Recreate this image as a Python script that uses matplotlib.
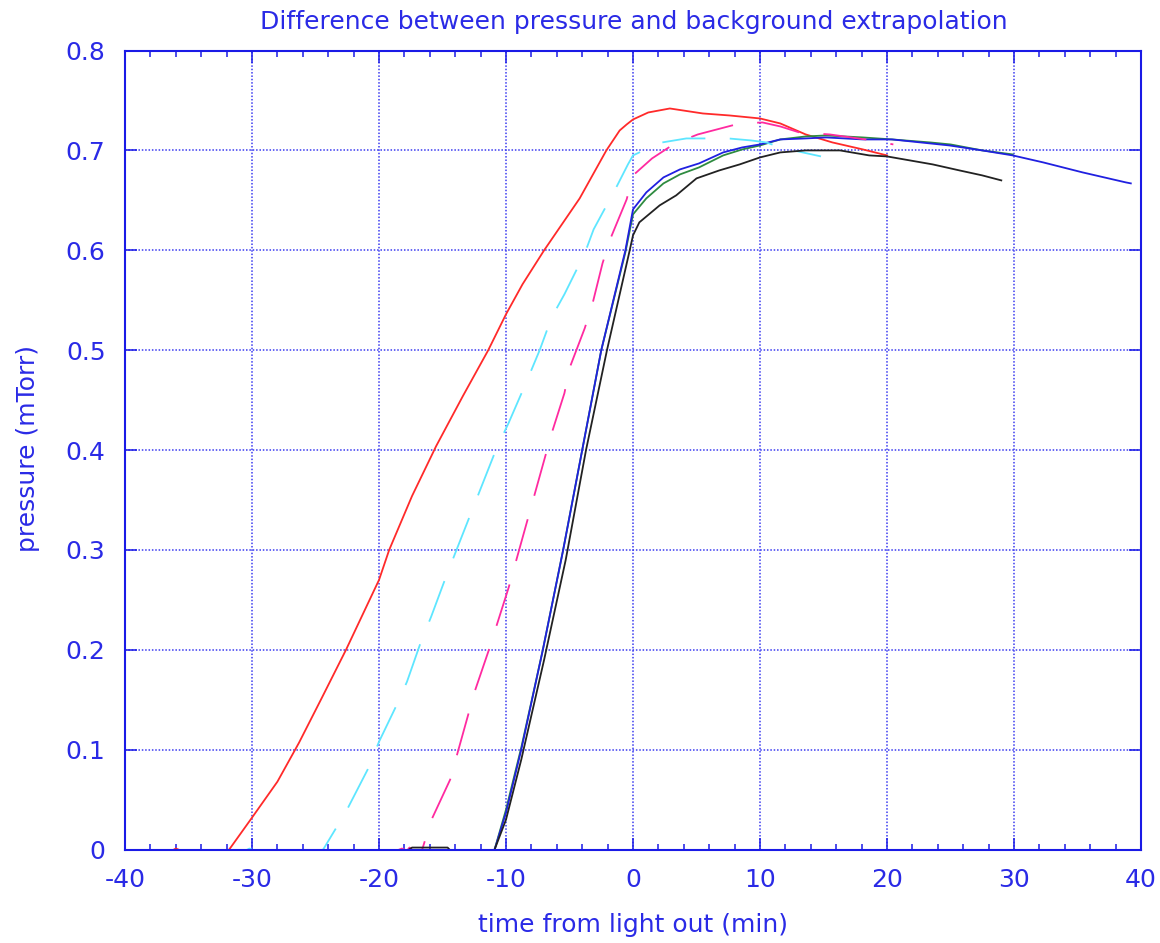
import matplotlib
matplotlib.use("Agg")
import matplotlib.pyplot as plt
from matplotlib.ticker import MultipleLocator, FormatStrFormatter, FuncFormatter

# Pressure minus background extrapolation, one run per curve (mTorr vs minutes)
red_t = [-37, -36.3, -36, -35.6, -34, -33, -32.3, -31.8, -30, -28, -26.3, -24.5,
         -22.6, -20, -19.2, -17.4, -15.5, -13.4, -11.4, -10, -8.7, -7.0, -4.2, -2.1,
         -1.05, -0.5, 0, 1.2, 2.9, 5.5, 7.6, 10, 11.6, 13.6, 15.7, 18.1, 20]
red_v = [-0.004, -0.001, 0.001, -0.001, -0.006, -0.005, -0.002, 0.0, 0.032, 0.068,
         0.107, 0.152, 0.2, 0.27, 0.3, 0.354, 0.404, 0.454, 0.5, 0.536, 0.566, 0.6,
         0.652, 0.7, 0.72, 0.726, 0.731, 0.738, 0.742, 0.737, 0.735, 0.732, 0.727,
         0.716, 0.708, 0.701, 0.695]

cyan_t = [-31, -30.2, -29.5, -27, -25.2, -24.4, -22.6, -20.9, -20, -18.6, -17.8,
          -16.7, -15.9, -14.7, -13.9, -10.8, -9.8, -8.4, -7.35, -6.4, -5.4, -3.8,
          -3.1, -1.4, -0.4, 0, 1, 2.3, 4.2, 7.5, 9.3, 10.5, 11.6, 13.0, 14.8]
cyan_v = [-0.004, 0.001, -0.003, -0.006, -0.003, 0.0, 0.038, 0.08, 0.108, 0.145,
          0.168, 0.208, 0.233, 0.274, 0.3, 0.4, 0.427, 0.468, 0.5, 0.533, 0.556,
          0.597, 0.621, 0.661, 0.686, 0.695, 0.701, 0.708, 0.712, 0.712, 0.71,
          0.708, 0.703, 0.699, 0.694]

pink_t = [-19, -18.2, -17.8, -17.6, -17.2, -16.6, -15.9, -14.4, -13.9, -13.0, -12.5,
          -11.4, -10.8, -9.8, -6.4, -5.4, -5.0, -3.8, -3.2, -2.4, -1.8, -0.5, 0,
          1.5, 3.3, 5.1, 8.4, 10.2, 11.6, 13.1, 15.5, 18.3, 20.5]
pink_v = [-0.003, 0.001, -0.001, 0.002, -0.002, 0.0, 0.029, 0.07, 0.093, 0.134,
          0.157, 0.198, 0.222, 0.262, 0.417, 0.457, 0.482, 0.522, 0.546, 0.587,
          0.611, 0.651, 0.675, 0.692, 0.707, 0.716, 0.727, 0.728, 0.724, 0.718,
          0.716, 0.711, 0.706]

blue_t = [-13, -11.5, -10.9, -10, -8.8, -7.1, -5.5, -4.0, -2.5, -0.6, 0, 1.05, 2.4,
          3.7, 5.2, 7.1, 8.6, 10, 11.6, 13.6, 15.2, 18.1, 20.4, 23.4, 24.9, 27.5,
          29.9, 32.3, 35.4, 38.8, 39.2]
blue_v = [-0.004, -0.003, 0.0, 0.037, 0.1, 0.2, 0.3, 0.4, 0.5, 0.6, 0.641, 0.658,
          0.673, 0.681, 0.687, 0.698, 0.703, 0.706, 0.711, 0.712, 0.713, 0.711,
          0.711, 0.707, 0.705, 0.70, 0.695, 0.688, 0.678, 0.668, 0.667]

green_t = [-13, -11.5, -10.9, -10, -8.8, -7.1, -5.5, -4.0, -2.5, -0.6, 0, 1.05, 2.4,
           3.7, 5.2, 7.1, 8.6, 10, 11.6, 13.6, 15.2, 18.1, 20.4, 23.4, 25, 27.5, 29.9]
green_v = [-0.004, -0.003, 0.0, 0.04, 0.102, 0.2, 0.3, 0.4, 0.5, 0.598, 0.636,
           0.652, 0.667, 0.676, 0.683, 0.695, 0.701, 0.705, 0.711, 0.714, 0.715,
           0.713, 0.711, 0.708, 0.706, 0.700, 0.696]

black_t = [-18, -17.4, -14.6, -14.3, -11.5, -10.9, -10, -8.8, -7.0, -5.3, -3.7,
           -2.05, -0.26, 0, 0.5, 2.1, 3.4, 5.0, 6.8, 8.4, 10, 11.6, 13.6, 16.3,
           18.6, 20, 23.6, 25.7, 27.5, 29]
black_v = [-0.003, 0.002, 0.002, -0.002, -0.004, 0.0, 0.03, 0.09, 0.19, 0.29, 0.4,
           0.5, 0.6, 0.615, 0.628, 0.645, 0.655, 0.672, 0.68, 0.686, 0.693, 0.698,
           0.70, 0.70, 0.695, 0.694, 0.686, 0.68, 0.675, 0.670]

TEXT = '#2a2ae6'
AXIS = '#1a1ae6'
FS = 18
LW = 1.3
plt.rcParams['font.family'] = ['DejaVu Sans']

fig = plt.figure(figsize=(11.6, 9.43), dpi=100)
ax = fig.add_axes([0.1078, 0.0991, 0.8758, 0.8473])

dash = (0, (24, 13.5))
ax.plot(red_t, red_v, color='#ff2a2a', lw=LW)
ax.plot(green_t, green_v, color='#2e8b40', lw=LW)
ax.plot(blue_t, blue_v, color='#2020e0', lw=LW)
ax.plot(pink_t, pink_v, color='#ff2aa0', lw=LW, linestyle=dash)
ax.plot(cyan_t, cyan_v, color='#5ee6ff', lw=LW, linestyle=dash)
ax.plot(black_t, black_v, color='#222222', lw=LW)

ax.set_xlim(-40, 40)
ax.set_ylim(0, 0.8)
ax.xaxis.set_major_locator(MultipleLocator(10))
ax.xaxis.set_minor_locator(MultipleLocator(2))
ax.yaxis.set_major_locator(MultipleLocator(0.1))
ax.xaxis.set_major_formatter(FormatStrFormatter('%d'))
ax.yaxis.set_major_formatter(FuncFormatter(
    lambda v, p: '0' if abs(v) < 1e-9 else f'{v:g}'))

ax.tick_params(which='both', direction='in', top=True, right=True,
               colors=AXIS, labelcolor=TEXT, labelsize=FS)
ax.tick_params(which='major', length=8.6, width=1.1)
ax.tick_params(which='minor', length=4.3, width=1.1)
ax.tick_params(axis='x', which='major', pad=13)
ax.tick_params(axis='y', which='major', pad=14)
for s in ax.spines.values():
    s.set_color(AXIS)
    s.set_linewidth(1.5)

ax.grid(True, which='major', color='#3a3af0', linestyle=(0, (1, 1.2)), lw=1.1)
ax.set_axisbelow(True)

fig.text(634 / 1160, 1 - 22 / 943, 'Difference between pressure and background extrapolation',
         ha='center', va='center', color=TEXT, fontsize=FS)
fig.text(633 / 1160, 1 - 925 / 943, 'time from light out (min)',
         ha='center', va='center', color=TEXT, fontsize=FS)
fig.text(28 / 1160, 1 - 448 / 943, 'pressure (mTorr)', rotation=90,
         ha='center', va='center', color=TEXT, fontsize=FS)

fig.savefig('out.png', dpi=100)
